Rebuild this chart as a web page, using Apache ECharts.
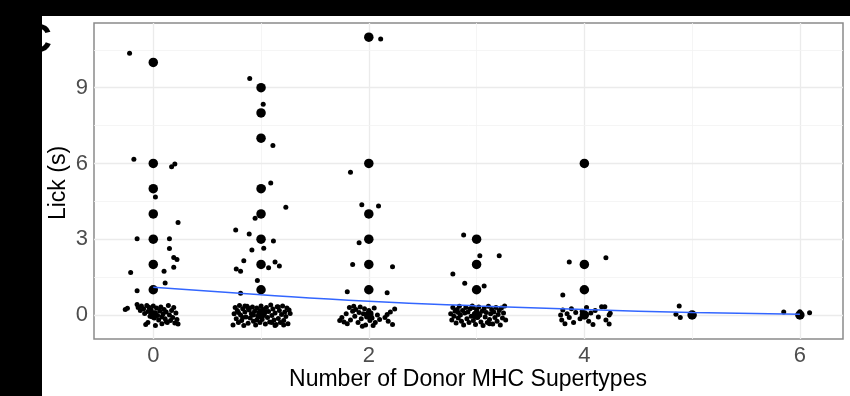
<!DOCTYPE html>
<html>
<head>
<meta charset="utf-8">
<script src="https://cdn.jsdelivr.net/npm/echarts@6/dist/echarts.min.js"></script>
<style>
html,body{margin:0;padding:0;background:#fff;}
#chart{width:850px;height:396px;}
</style>
</head>
<body>
<div id="chart"></div>
<script>
// ---- data ----
const xTicks = [0, 2, 4, 6];
const yTicks = [0, 3, 6, 9];
const xMinorGrid = [1, 3, 5];
const yMinorGrid = [1.5, 4.5, 7.5, 10.5];

// raw observations (large dots, not jittered)
const rawPoints = [
  [0,10],[0,6],[0,5],[0,4],[0,3],[0,2],[0,1],[0,0],
  [1,9],[1,8],[1,7],[1,5],[1,4],[1,3],[1,2],[1,1],[1,0],
  [2,11],[2,6],[2,4],[2,3],[2,2],[2,1],[2,0],
  [3,3],[3,2],[3,1],[3,0],
  [4,6],[4,2],[4,1],[4,0],
  [5,0],
  [6,0]
];

// jittered observations (small dots)
const jitter0 = [
  [-0.22,10.36],[-0.18,6.17],[0.17,5.87],[0.20,5.98],[0.02,4.67],[0.23,3.66],[-0.15,3.02],[0.15,3.02],
  [0.15,2.63],[0.19,2.28],[0.22,2.20],[0.19,1.89],[-0.21,1.68],[0.10,1.73],[0.11,1.27],[-0.15,0.96],
  [-0.26,0.22],[-0.24,0.27],[-0.15,0.42],[-0.14,0.30],[-0.12,0.18],[-0.11,0.36],[-0.09,0.25],[-0.08,0.06],
  [-0.06,0.38],[-0.05,0.14],[-0.04,0.31],[-0.03,-0.05],[-0.02,0.20],[0.00,0.36],[0.01,-0.12],[0.02,0.09],
  [0.03,0.28],[0.04,-0.02],[0.05,-0.20],[0.06,0.16],[0.07,0.32],[0.08,-0.08],[0.09,0.04],[0.10,0.22],
  [0.11,-0.15],[0.12,0.12],[0.13,-0.30],[0.14,0.38],[0.15,0.00],[0.16,-0.22],[0.17,0.18],[0.18,-0.10],
  [0.19,0.30],[0.20,-0.32],[0.21,0.08],[0.22,-0.18],[-0.07,-0.38],[-0.05,-0.30],[0.02,-0.42],[0.08,-0.35],
  [0.23,-0.36],[0.12,-0.26]
];
const jitter1 = [
  [0.895,9.36],[1.02,8.34],[1.11,6.71],[1.09,5.23],[1.02,5.03],[1.23,4.27],[0.945,3.83],[0.765,3.37],
  [0.89,3.21],[1.115,2.93],[1.025,2.64],[0.915,2.57],[0.84,2.15],[0.77,1.82],[0.81,1.73],[1.07,1.87],
  [1.13,2.10],[1.17,1.94],[0.966,1.37],[0.81,0.86],
  [0.74,-0.40],[0.75,0.05],[0.76,0.30],[0.77,-0.15],[0.78,0.18],[0.79,-0.30],[0.80,0.38],[0.81,0.00],
  [0.82,-0.22],[0.83,0.25],[0.84,-0.42],[0.85,0.12],[0.86,-0.08],[0.87,0.35],[0.88,-0.33],[0.89,0.20],
  [0.90,-0.12],[0.91,0.05],[0.92,0.32],[0.93,-0.25],[0.94,0.15],[0.95,-0.40],[0.96,0.28],[0.97,-0.05],
  [0.98,0.10],[0.99,-0.30],[1.00,0.36],[1.01,-0.18],[1.02,0.22],[1.03,0.02],[1.04,-0.36],[1.05,0.30],
  [1.06,-0.10],[1.07,0.14],[1.08,-0.28],[1.09,0.40],[1.10,-0.02],[1.11,0.24],[1.12,-0.20],[1.13,0.08],
  [1.14,-0.38],[1.15,0.33],[1.16,-0.14],[1.17,0.18],[1.18,-0.30],[1.19,0.02],[1.20,0.36],[1.21,-0.22],
  [1.22,0.12],[1.23,-0.06],[1.24,0.28],[1.25,-0.35],[1.26,0.20],[1.27,0.06],[0.79,0.10],[0.83,-0.10],
  [0.88,0.28],[0.93,0.00],[0.99,0.18],[1.04,0.12],[1.10,-0.30],[1.16,0.32],[1.21,-0.40],[0.85,0.36],
  [0.96,-0.20],[1.13,-0.42]
];
const jitter2 = [
  [2.11,10.93],[1.83,5.65],[1.935,4.36],[2.09,4.32],[1.91,2.86],[1.85,2.00],[2.22,1.91],[1.80,0.92],[2.17,0.88],
  [1.73,-0.22],[1.75,-0.10],[1.77,-0.28],[1.79,0.05],[1.80,-0.35],[1.82,0.30],[1.83,-0.20],[1.85,0.15],
  [1.86,0.35],[1.87,-0.05],[1.88,0.22],[1.90,-0.30],[1.91,0.10],[1.92,0.32],[1.93,-0.15],[1.95,0.05],
  [1.96,0.25],[1.97,-0.40],[1.98,-0.08],[2.00,0.18],[2.01,-0.22],[2.02,0.08],[2.03,-0.12],[2.05,0.28],
  [2.06,-0.30],[2.08,0.00],[2.10,-0.18],[2.15,-0.10],[2.17,0.02],[2.18,-0.25],[2.20,0.12],[2.22,-0.38],
  [2.24,0.24],[1.94,-0.45],[2.04,-0.42]
];
const jitter3 = [
  [2.88,3.17],[3.03,2.35],[3.21,2.35],[2.78,1.62],[2.89,1.26],[3.07,1.15],
  [2.76,0.05],[2.77,-0.20],[2.78,0.30],[2.79,-0.05],[2.80,0.15],[2.81,-0.32],[2.82,0.22],[2.83,-0.12],
  [2.84,0.35],[2.85,0.00],[2.86,-0.25],[2.87,0.18],[2.88,-0.40],[2.89,0.08],[2.90,0.30],[2.91,-0.15],
  [2.92,0.12],[2.93,-0.30],[2.94,0.25],[2.95,-0.05],[2.96,0.36],[2.97,-0.22],[2.98,0.05],[2.99,-0.38],
  [3.00,0.20],[3.01,-0.10],[3.02,0.32],[3.03,0.00],[3.04,-0.28],[3.05,0.15],[3.06,-0.42],[3.07,0.26],
  [3.08,-0.08],[3.09,0.10],[3.10,-0.30],[3.11,0.35],[3.12,-0.18],[3.13,0.05],[3.14,0.22],[3.15,-0.36],
  [3.16,0.12],[3.17,-0.10],[3.18,0.30],[3.19,-0.25],[3.20,0.02],[3.21,0.18],[3.22,-0.40],[3.23,0.28],
  [3.24,-0.12],[3.25,0.08],[3.26,0.36],[3.27,-0.20],[2.83,0.10],[2.97,0.30],[3.12,-0.35]
];
const jitter4 = [
  [3.86,2.10],[3.80,0.79],[4.20,2.27],
  [3.78,0.00],[3.79,-0.20],[3.80,0.20],[3.82,-0.35],[3.84,0.05],[3.86,-0.10],[3.88,0.25],[3.90,-0.30],
  [3.92,0.10],[3.96,-0.15],[3.98,0.15],[4.00,-0.05],[4.02,0.30],[4.04,-0.25],[4.06,0.08],[4.08,-0.38],
  [4.10,0.18],[4.13,-0.08],[4.16,0.33],[4.19,0.33],[4.20,-0.20],[4.23,0.00],[4.23,-0.36],[4.24,0.07]
];
const jitter5 = [[4.88,0.36],[4.85,0.03],[4.89,-0.10]];
const jitter6 = [[5.85,0.12],[6.00,0.13],[6.09,0.09]];

// fitted trend line
const fitLine = [[0,1.10],[1,0.80],[2,0.54],[3,0.36],[4,0.22],[5,0.10],[6,0.03]];

const xTitle = 'Number of Donor MHC Supertypes';
const yTitle = 'Lick (s)';
const panelLetter = 'C';

// ---- chart ----
const FONT = '"Liberation Sans", Arial, sans-serif';
const chart = echarts.init(document.getElementById('chart'), null, {renderer: 'canvas'});

const major = {color: '#EBEBEB', width: 1.3, type: 'solid'};
const minor = {color: '#F3F3F3', width: 0.8, type: 'solid'};
const gridLines = [];
xTicks.forEach(v => gridLines.push({xAxis: v, lineStyle: major}));
xMinorGrid.forEach(v => gridLines.push({xAxis: v, lineStyle: minor}));
yTicks.forEach(v => gridLines.push({yAxis: v, lineStyle: major}));
yMinorGrid.forEach(v => gridLines.push({yAxis: v, lineStyle: minor}));

const smallPts = [].concat(jitter0, jitter1, jitter2, jitter3, jitter4, jitter5, jitter6);

chart.setOption({
  animation: false,
  backgroundColor: '#ffffff',
  grid: {left: 94, right: 7, top: 23, bottom: 57, show: true,
         borderColor: '#8a8a8a', borderWidth: 1.5, backgroundColor: 'transparent'},
  xAxis: {
    type: 'value', min: -0.55, max: 6.4,
    axisLine: {show: false},
    splitLine: {show: false},
    axisTick: {show: true, length: 4, customValues: xTicks, lineStyle: {color: '#555', width: 1}},
    axisLabel: {customValues: xTicks, color: '#4D4D4D', fontSize: 22, fontFamily: FONT, margin: 6}
  },
  yAxis: {
    type: 'value', min: -0.95, max: 11.56,
    axisLine: {show: false},
    splitLine: {show: false},
    axisTick: {show: true, length: 4, customValues: yTicks, lineStyle: {color: '#555', width: 1}},
    axisLabel: {customValues: yTicks, color: '#4D4D4D', fontSize: 22, fontFamily: FONT, margin: 6}
  },
  series: [
    {
      type: 'scatter', data: [], silent: true, z: 1,
      markLine: {silent: true, z: 1, symbol: 'none', label: {show: false}, animation: false, data: gridLines}
    },
    {
      type: 'scatter', data: smallPts, symbolSize: 5, z: 10,
      itemStyle: {color: '#000', opacity: 1}
    },
    {
      type: 'scatter', data: rawPoints, symbolSize: 9.5, z: 11,
      itemStyle: {color: '#000', opacity: 1}
    },
    {
      type: 'line', data: fitLine, smooth: true, showSymbol: false, z: 12,
      lineStyle: {color: '#3366FF', width: 1.5}
    }
  ],
  graphic: [
    {type: 'rect', shape: {x: 0, y: 0, width: 850, height: 16}, style: {fill: '#000'}, z: 100},
    {type: 'rect', shape: {x: 0, y: 0, width: 42, height: 396}, style: {fill: '#000'}, z: 100},
    {type: 'text', x: 52, y: 41, z: 99,
     style: {text: panelLetter, font: 'bold 40px ' + FONT, fill: '#000', align: 'right', verticalAlign: 'middle'}},
    {type: 'text', x: 468, y: 380, z: 50,
     style: {text: xTitle, font: '23px ' + FONT, fill: '#000', align: 'center', verticalAlign: 'middle'}},
    {type: 'text', x: 59, y: 183, rotation: Math.PI / 2, z: 50,
     style: {text: yTitle, font: '23px ' + FONT, fill: '#000', align: 'center', verticalAlign: 'middle'}}
  ]
});
</script>
</body>
</html>
